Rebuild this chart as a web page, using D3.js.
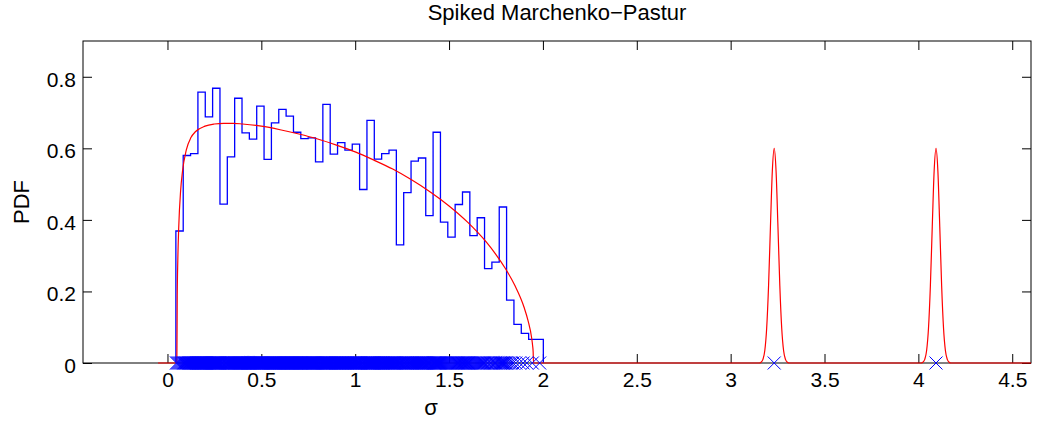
<!DOCTYPE html>
<html>
<head>
<meta charset="utf-8">
<script src="https://cdn.jsdelivr.net/npm/d3@7"></script>
<style>
  html, body { margin: 0; padding: 0; background: #fff; }
  svg { display: block; }
  text { font-family: "Liberation Sans", Arial, Helvetica, sans-serif; fill: #000; }
</style>
</head>
<body>
<svg id="chart" width="1037" height="421"></svg>
<script>
// ---------------- data ----------------
const titleText = "Spiked Marchenko\u2212Pastur";
const xLabelText = "\u03c3";
const yLabelText = "PDF";
const xDomain = [-0.45, 4.6];
const yDomain = [0, 0.9];
const xTicks = [0, 0.5, 1, 1.5, 2, 2.5, 3, 3.5, 4, 4.5];
const xTickLabels = ["0", "0.5", "1", "1.5", "2", "2.5", "3", "3.5", "4", "4.5"];
const yTicks = [0, 0.2, 0.4, 0.6, 0.8];
const yTickLabels = ["0", "0.2", "0.4", "0.6", "0.8"];

// histogram of the bulk singular values (50 bins)
const histStart = 0.0447;
const histBinWidth = 0.03915;
const histValues = [
  0.369, 0.580, 0.585, 0.757, 0.688, 0.768, 0.444, 0.576, 0.740, 0.643,
  0.626, 0.718, 0.569, 0.671, 0.709, 0.690, 0.645, 0.627, 0.629, 0.562,
  0.723, 0.584, 0.616, 0.595, 0.612, 0.485, 0.678, 0.570, 0.585, 0.595,
  0.330, 0.476, 0.564, 0.573, 0.412, 0.645, 0.394, 0.352, 0.443, 0.478,
  0.356, 0.406, 0.264, 0.282, 0.436, 0.176, 0.108, 0.083, 0.066, 0.066
];

// theoretical density (red)
const curveSigma = [
  -0.05, 0.05, 0.052, 0.055, 0.06, 0.07, 0.08, 0.1, 0.125, 0.15, 0.2, 0.25, 0.3, 0.35, 0.4,
  0.5, 0.6, 0.7, 0.8, 0.9, 1.0, 1.1, 1.2, 1.3, 1.4, 1.5, 1.6, 1.7, 1.75, 1.8, 1.85,
  1.9, 1.92, 1.94, 1.945, 1.948, 1.95, 2.5, 3.1,
  3.152, 3.162, 3.172, 3.182, 3.192, 3.202, 3.212, 3.222, 3.232, 3.242, 3.252, 3.262, 3.272, 3.282, 3.292, 3.302, 3.312,
  3.6, 4.0,
  4.014, 4.024, 4.034, 4.044, 4.054, 4.064, 4.074, 4.084, 4.094, 4.104, 4.114, 4.124, 4.134, 4.144, 4.154, 4.164, 4.174,
  4.6
];
const curvePdf = [
  0, 0, 0.189, 0.286, 0.380, 0.481, 0.536, 0.595, 0.630, 0.647, 0.662, 0.668, 0.670, 0.670, 0.668,
  0.662, 0.652, 0.640, 0.626, 0.609, 0.590, 0.567, 0.542, 0.512, 0.478, 0.439, 0.393, 0.337, 0.303, 0.264, 0.217,
  0.155, 0.120, 0.070, 0.049, 0.031, 0, 0, 0,
  0, 0.002, 0.010, 0.035, 0.098, 0.216, 0.381, 0.536, 0.600, 0.536, 0.381, 0.216, 0.098, 0.035, 0.010, 0.002, 0,
  0, 0,
  0, 0.002, 0.010, 0.035, 0.098, 0.216, 0.381, 0.536, 0.600, 0.536, 0.381, 0.216, 0.098, 0.035, 0.010, 0.002, 0,
  0
];

// isolated spike singular values (markers)
const spikeSigmas = [3.232, 4.094];
const markersPerUnitDensity = 20;

// ---------------- layout ----------------
const margin = { left: 83, right: 1031, top: 41, bottom: 363 };
const svg = d3.select("#chart");
const x = d3.scaleLinear().domain(xDomain).range([margin.left, margin.right]);
const y = d3.scaleLinear().domain(yDomain).range([margin.bottom, margin.top]);
const tickLen = 9;

const axesG = svg.append("g");
axesG.append("rect")
  .attr("x", margin.left).attr("y", margin.top)
  .attr("width", margin.right - margin.left).attr("height", margin.bottom - margin.top)
  .attr("fill", "none").attr("stroke", "#000").attr("stroke-width", 1);

const xAxisB = d3.axisBottom(x).tickValues(xTicks).tickSize(-tickLen).tickSizeOuter(0)
  .tickFormat((d, i) => xTickLabels[i]).tickPadding(18);
const gxb = axesG.append("g").attr("transform", `translate(0,${margin.bottom})`).call(xAxisB);
const xAxisT = d3.axisTop(x).tickValues(xTicks).tickSize(-tickLen).tickSizeOuter(0).tickFormat("");
const gxt = axesG.append("g").attr("transform", `translate(0,${margin.top})`).call(xAxisT);
const yAxisL = d3.axisLeft(y).tickValues(yTicks).tickSize(-tickLen).tickSizeOuter(0)
  .tickFormat((d, i) => yTickLabels[i]).tickPadding(7);
const gyl = axesG.append("g").attr("transform", `translate(${margin.left},0)`).call(yAxisL);
const yAxisR = d3.axisRight(y).tickValues(yTicks).tickSize(-tickLen).tickSizeOuter(0).tickFormat("");
const gyr = axesG.append("g").attr("transform", `translate(${margin.right},0)`).call(yAxisR);

[gxb, gxt, gyl, gyr].forEach(g => {
  g.select(".domain").remove();
  g.selectAll(".tick line").attr("stroke", "#000").attr("stroke-width", 1);
  g.selectAll("text").attr("font-family", '"Liberation Sans", Arial, sans-serif')
    .attr("font-size", 21).attr("fill", "#000");
});
gyl.selectAll("text").attr("dy", "0.45em");
gxb.selectAll("text").attr("dy", "0.3em");

// ---------------- histogram ----------------
const histPts = [[histStart, 0]];
histValues.forEach((v, i) => histPts.push([histStart + i * histBinWidth, v]));
histPts.push([histStart + histValues.length * histBinWidth, histValues[histValues.length - 1]]);
histPts.push([histStart + histValues.length * histBinWidth, 0]);
svg.append("path")
  .datum(histPts)
  .attr("fill", "none")
  .attr("stroke", "#0000ff")
  .attr("stroke-width", 1.3)
  .attr("d", d3.line().x(d => x(d[0])).y(d => y(d[1])).curve(d3.curveStepAfter));

// ---------------- theoretical curve ----------------
const curvePts = curveSigma.map((s, i) => [s, curvePdf[i]]);
svg.append("path")
  .datum(curvePts)
  .attr("fill", "none")
  .attr("stroke", "#ff0000")
  .attr("stroke-width", 1.2)
  .attr("d", d3.line().x(d => x(d[0])).y(d => y(d[1])).curve(d3.curveMonotoneX));

// ---------------- singular value markers ----------------
const markerSigmas = [];
histValues.forEach((v, i) => {
  const n = Math.max(1, Math.round(v * markersPerUnitDensity));
  const left = histStart + i * histBinWidth;
  for (let j = 0; j < n; j++) markerSigmas.push(left + (j + 0.5) / n * histBinWidth);
});
spikeSigmas.forEach(s => markerSigmas.push(s));
const ms = 6.5;
svg.append("g").selectAll("path")
  .data(markerSigmas)
  .join("path")
  .attr("transform", d => `translate(${x(d)},${y(0)})`)
  .attr("d", `M${-ms},${-ms}L${ms},${ms}M${-ms},${ms}L${ms},${-ms}`)
  .attr("stroke", "#0000ff")
  .attr("stroke-width", 1)
  .attr("fill", "none");

// ---------------- labels ----------------
svg.append("text")
  .attr("x", (margin.left + margin.right) / 2).attr("y", 20)
  .attr("text-anchor", "middle").attr("font-size", 22)
  .text(titleText);
svg.append("text")
  .attr("x", 431).attr("y", 415)
  .attr("text-anchor", "middle").attr("font-size", 22)
  .text(xLabelText);
svg.append("text")
  .attr("transform", "translate(29,202) rotate(-90)")
  .attr("text-anchor", "middle").attr("font-size", 22)
  .text(yLabelText);
</script>
</body>
</html>
